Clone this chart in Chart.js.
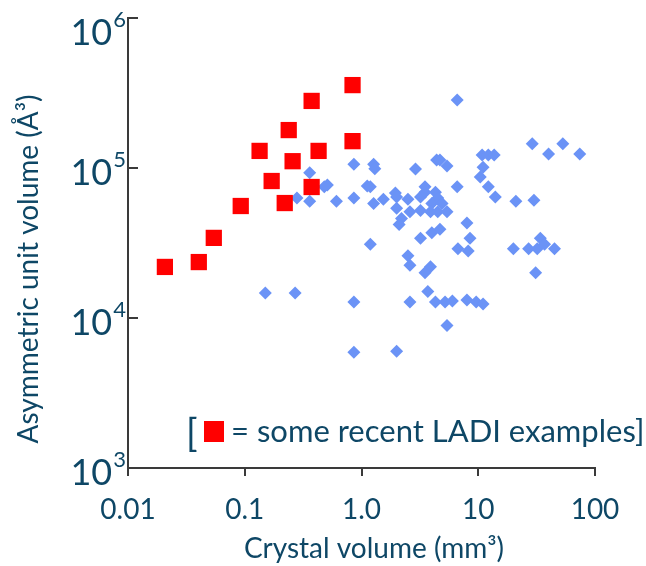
<!DOCTYPE html>
<html>
<head>
<meta charset="utf-8">
<script src="https://cdn.jsdelivr.net/npm/chart.js@4/dist/chart.umd.min.js"></script>
<style>
  html, body { margin: 0; padding: 0; background: #fff; }
  #wrap { width: 646px; height: 566px; }
</style>
</head>
<body>
<div id="wrap"><canvas id="grafico"></canvas></div>
<script>
// Dados: volume do cristal (mm3) x volume da unidade assimétrica (Å3)
const blueX = [6.6, 0.86, 1.27, 1.3, 2.9, 4.4, 4.7, 5.4, 10.8, 12.2, 13.7, 29, 53, 40, 74, 11, 10.4,
  6.6, 12.2, 14, 21, 30, 0.36, 0.51, 0.48, 1.12, 1.19, 0.28, 0.36, 0.61, 0.86, 1.27, 1.54, 1.95,
  2.0, 2.5, 3.2, 3.5, 3.5, 4.3, 4.5, 4.0, 4.9, 2.0, 2.6, 3.2, 3.9, 4.5, 5.4, 2.2, 2.1, 8.0, 1.19,
  3.2, 4.0, 4.7, 8.5, 6.7, 8.2, 2.5, 2.6, 3.5, 3.9, 20, 27, 34, 32, 37, 45, 31, 0.15, 0.27, 0.86,
  2.6, 3.7, 4.3, 5.2, 6.0, 8.0, 9.6, 11, 5.4, 0.86, 2.0];
const blueY = [284000, 106000, 106000, 99000, 98500, 113000, 113000, 103000, 122000, 122000, 122000,
  145000, 145000, 124000, 124000, 101000, 87000, 75000, 75000, 64000, 60000, 61000, 93000, 77000,
  75000, 76000, 75000, 63000, 60000, 60000, 63000, 58000, 62000, 68000, 64000, 62000, 64000, 69000,
  75000, 69000, 63000, 58000, 58000, 54000, 51000, 52000, 51000, 51000, 51000, 46000, 42000, 43000,
  31000, 34000, 37000, 39000, 34000, 29000, 28000, 26000, 22500, 20000, 22000, 29000, 29000, 34000,
  29000, 31000, 29000, 20000, 14700, 14700, 12800, 12800, 15000, 12800, 12800, 13000, 13200, 12800,
  12400, 8900, 5900, 6000];

// Exemplos recentes do LADI (quadrados vermelhos)
const redX = [0.0207, 0.0404, 0.0543, 0.0924, 0.134, 0.170, 0.220, 0.238, 0.257, 0.374, 0.429, 0.374, 0.838, 0.838];
const redY = [21900, 23600, 34200, 55800, 130000, 81900, 58400, 179000, 111000, 280000, 130000, 74700, 357000, 151000];

// Eixos
const xTicks = [0.01, 0.1, 1, 10, 100];
const xTickLabels = ['0.01', '0.1', '1.0', '10', '100'];
const yTicks = [1000, 10000, 100000, 1000000];
const yExponents = ['3', '4', '5', '6'];
const xTitle = 'Crystal volume (mm³)';
const yTitle = 'Asymmetric unit volume (Å³)';
const noteText = '= some recent LADI examples]';

const textColor = '#0e4766';
const axisColor = '#3a3a3a';
const fontFamily = 'Lato, "Open Sans", sans-serif';

// Plugin: rótulos do eixo y, títulos e nota
const extras = {
  id: 'extras',
  afterDraw(chart) {
    const ctx = chart.ctx;
    const area = chart.chartArea;
    const ys = chart.scales.y;
    ctx.save();

    // marcas do eixo y (para dentro)
    ctx.strokeStyle = axisColor;
    ctx.lineWidth = 2;
    yTicks.forEach((v) => {
      const py = Math.round(ys.getPixelForValue(v));
      ctx.beginPath();
      ctx.moveTo(area.left, py);
      ctx.lineTo(area.left + 10, py);
      ctx.stroke();
    });

    // rótulos 10^n
    ctx.fillStyle = textColor;
    yTicks.forEach((v, i) => {
      let py = ys.getPixelForValue(v);
      if (i === yTicks.length - 1) py += 10;
      ctx.font = '22px ' + fontFamily;
      ctx.textAlign = 'right';
      ctx.textBaseline = 'alphabetic';
      const expW = ctx.measureText(yExponents[i]).width;
      ctx.fillText(yExponents[i], area.left - 2, py - 1);
      ctx.font = '36px ' + fontFamily;
      ctx.fillText('10', area.left - 3 - expW, py + 17);
    });

    // título eixo y
    ctx.font = '28px ' + fontFamily;
    ctx.textAlign = 'center';
    ctx.textBaseline = 'alphabetic';
    ctx.save();
    ctx.translate(38, 269);
    ctx.rotate(-Math.PI / 2);
    ctx.fillText(yTitle, 0, 0);
    ctx.restore();

    // título eixo x
    ctx.fillText(xTitle, 374, 558);

    // nota com quadrado vermelho
    ctx.textAlign = 'left';
    ctx.font = '38px ' + fontFamily;
    ctx.fillText('[', 186, 446);
    ctx.fillStyle = '#ff0000';
    ctx.fillRect(204, 421, 20, 21);
    ctx.fillStyle = textColor;
    ctx.font = '31px ' + fontFamily;
    ctx.fillText(noteText, 231, 442);

    ctx.restore();
  }
};

const ctxGrafico = document.getElementById('grafico').getContext('2d');
const grafico = new Chart(ctxGrafico, {
  type: 'scatter',
  data: {
    datasets: [
      {
        label: 'LADI',
        data: redX.map((x, i) => ({ x, y: redY[i] })),
        pointStyle: 'rect',
        pointRadius: 11.5,
        pointHoverRadius: 11.5,
        backgroundColor: '#ff0000',
        borderWidth: 0
      },
      {
        label: 'Outros',
        data: blueX.map((x, i) => ({ x, y: blueY[i] })),
        pointStyle: 'rectRot',
        pointRadius: 6.5,
        pointHoverRadius: 6.5,
        backgroundColor: '#6b93f6',
        borderWidth: 0
      }
    ]
  },
  options: {
    responsive: true,
    maintainAspectRatio: false,
    animation: false,
    layout: { padding: { top: 18, right: 51, left: 0, bottom: 0 } },
    plugins: { legend: { display: false }, tooltip: { enabled: false } },
    scales: {
      x: {
        type: 'logarithmic',
        min: 0.01,
        max: 100,
        afterBuildTicks: (axis) => { axis.ticks = xTicks.map((v) => ({ value: v })); },
        afterFit: (axis) => { axis.height = 98; },
        ticks: {
          autoSkip: false,
          maxRotation: 0,
          padding: 17,
          color: textColor,
          font: { family: fontFamily, size: 28 },
          callback: (value) => xTickLabels[xTicks.indexOf(value)]
        },
        grid: { drawOnChartArea: false, tickLength: 8, color: axisColor, lineWidth: 2 },
        border: { color: axisColor, width: 2 }
      },
      y: {
        type: 'logarithmic',
        min: 1000,
        max: 1000000,
        afterBuildTicks: (axis) => { axis.ticks = yTicks.map((v) => ({ value: v })); },
        afterFit: (axis) => { axis.width = 128; },
        ticks: { display: false },
        grid: { display: false },
        border: { color: axisColor, width: 2 }
      }
    }
  },
  plugins: [extras]
});
</script>
</body>
</html>
